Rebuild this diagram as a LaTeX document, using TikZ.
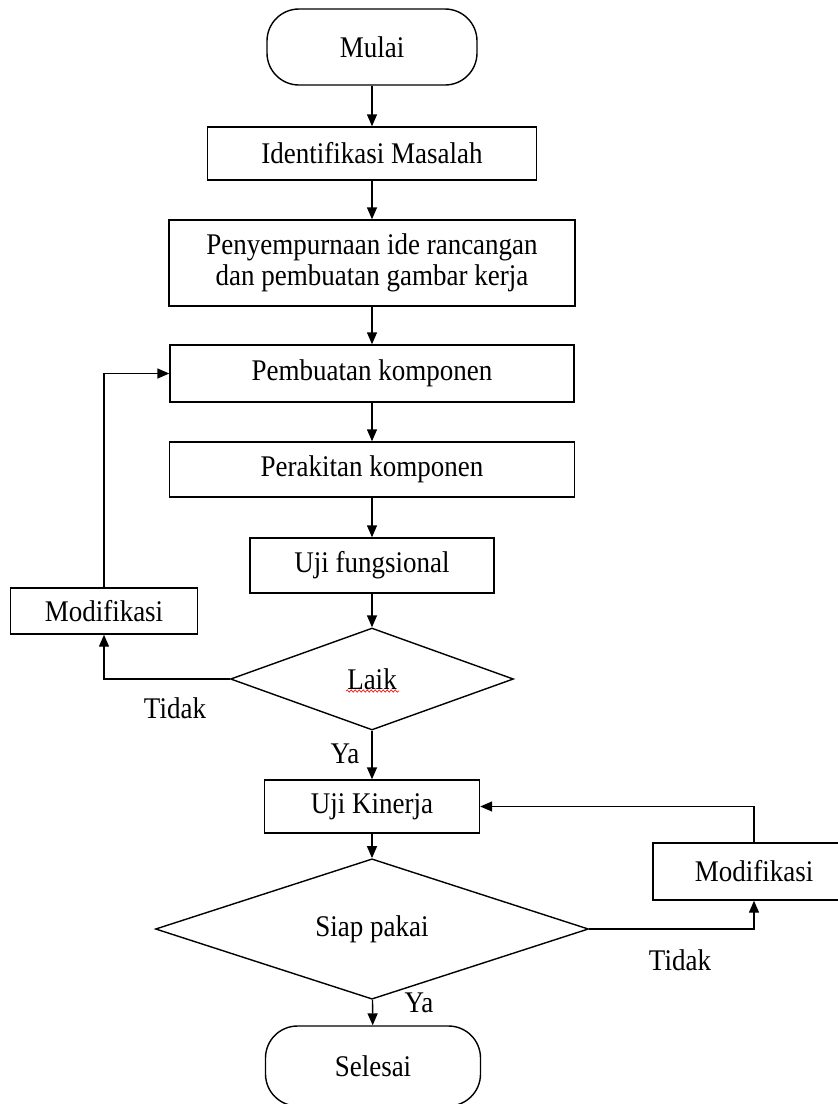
\documentclass[tikz,border=0pt]{standalone}
\usepackage{fontspec}
\setmainfont[FakeStretch=0.9]{Liberation Serif}
\usetikzlibrary{positioning, arrows.meta, shapes.geometric, decorations.pathmorphing}

\begin{document}
\begin{tikzpicture}[
    x=1pt, y=-1pt,
    box/.style={rectangle, draw, line width=1.4pt, inner sep=0pt,
                align=center, font=\fontsize{30}{31}\selectfont},
    term/.style={box, rounded corners=32pt},
    decide/.style={diamond, draw, line width=1.4pt, inner sep=0pt,
                   font=\fontsize{30}{31}\selectfont},
    lbl/.style={inner sep=0pt, font=\fontsize{30}{31}\selectfont},
    arrow/.style={-{Triangle[length=12pt, width=10pt]}, line width=1.4pt}
]
  \clip (0,0) rectangle (838,1104);

  % main column
  \node[term, minimum width=210pt, minimum height=76pt] (mulai) at (372,47) {Mulai};
  \node[box, minimum width=329pt, minimum height=53pt] (ident) at (372,153.5) {Identifikasi Masalah};
  \node[box, minimum width=406pt, minimum height=86pt] (ide) at (372,263) {Penyempurnaan ide rancangan\\dan pembuatan gambar kerja};
  \node[box, minimum width=404pt, minimum height=57pt] (buat) at (372,373.5) {Pembuatan komponen};
  \node[box, minimum width=405pt, minimum height=55pt] (rakit) at (372,469.5) {Perakitan komponen};
  \node[box, minimum width=244pt, minimum height=55pt] (ujif) at (372,565.5) {Uji fungsional};
  \node[decide, minimum width=283pt, minimum height=102pt] (laik) at (372,679) {Laik};
  \node[box, minimum width=215pt, minimum height=53pt] (ujik) at (372,806.5) {Uji Kinerja};
  \node[decide, minimum width=433pt, minimum height=101pt] (siap) at (372,929) {Siap pakai};
  \node[term, minimum width=215pt, minimum height=80pt] (selesai) at (373,1066) {Selesai};

  % side boxes
  \node[box, minimum width=187pt, minimum height=46pt] (modl) at (104,611) {Modifikasi};
  \node[box, minimum width=202pt, minimum height=57pt] (modr) at (754,871.5) {Modifikasi};

  % spell-check mark under Laik
  \draw[red, line width=0.6pt, decorate,
        decoration={snake, amplitude=1.2pt, segment length=4pt}] (346,691) -- (399,691);

  % labels
  \node[lbl] (tidakl) at (175,708) {Tidak};
  \node[lbl] (yal) at (345,754) {Ya};
  \node[lbl] (tidakr) at (680,960) {Tidak};
  \node[lbl] (yar) at (419,1003) {Ya};

  \draw[arrow] (mulai) -- (ident);
  \draw[arrow] (ident) -- (ide);
  \draw[arrow] (ide) -- (buat);
  \draw[arrow] (buat) -- (rakit);
  \draw[arrow] (rakit) -- (ujif);
  \draw[arrow] (ujif) -- (laik);
  \draw[arrow] (laik) -- (ujik);
  \draw[arrow] (ujik) -- (siap);
  \draw[arrow] (siap) -- (selesai);

  % loops back
  \draw[arrow] (laik.west) -| (modl.south);
  \draw[arrow] (modl.north) |- (buat.west);
  \draw[arrow] (siap.east) -| (modr.south);
  \draw[arrow] (modr.north) |- (ujik.east);
\end{tikzpicture}
\end{document}
